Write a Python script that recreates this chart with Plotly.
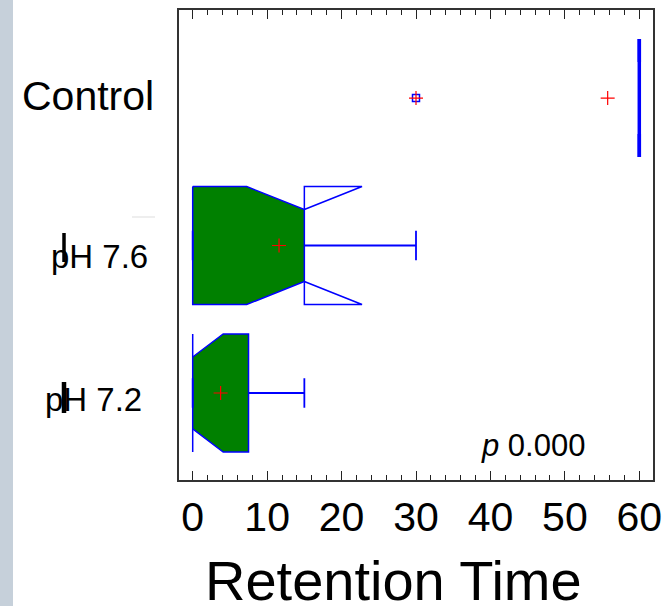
import plotly.graph_objects as go

# ---- data -------------------------------------------------------------
groups = ["Control", "pH 7.6", "pH 7.2"]
positions = [2, 1, 0]
q1 = [60, 0, 0]
median = [60, 15, 0]
q3 = [60, 15, 7.5]
notch_lo = [60, 7.25, 0]
notch_hi = [60, 22.75, 4.1]
whisker_lo = [60, 0, 0]
whisker_hi = [60, 30, 15]
means = [55.75, 11.6, 3.75]
outliers = [[30], [], []]
p_text = "0.000"
x_ticks = [0, 10, 20, 30, 40, 50, 60]

# ---- geometry ---------------------------------------------------------
W, H = 666, 606
L, R, T, B = 179, 13, 10, 126
PW, PH = W - L - R, H - T - B
HALF = 0.4          # half box height (y units)
NOTCH = 0.61 * HALF # half height at the notch waist
CAP = 0.1           # half length of whisker caps

BLUE = "#0000ff"
GREEN = "#008000"
FONT = "Liberation Sans, Arial, sans-serif"


def px_x(px):
    return (px - L) / PW


def px_y(py):
    return (H - B - py) / PH


def half_at(x, lo, med, hi):
    """Half height of the notched outline at position x."""
    if x <= lo or x >= hi:
        if lo == med == x or hi == med == x:
            return NOTCH
        return HALF
    if x <= med:
        return HALF + (NOTCH - HALF) * (x - lo) / (med - lo)
    return NOTCH + (HALF - NOTCH) * (x - med) / (hi - med)


fig = go.Figure()

for i, g in enumerate(groups):
    y0 = positions[i]
    a, m, b = q1[i], median[i], q3[i]
    lo, hi = notch_lo[i], notch_hi[i]
    flat = b == a
    edge_w = 3.5 if flat else 1.5

    # filled notched box between q1 and q3
    xs = [a]
    for v in (lo, m, hi):
        if a < v < b:
            xs.append(v)
    if b > a:
        xs.append(b)
    xs = sorted(set(xs))
    top = [(x, y0 + half_at(x, lo, m, hi)) for x in xs]
    bot = [(x, y0 - half_at(x, lo, m, hi)) for x in reversed(xs)]
    pts = top + bot + [top[0]]
    fig.add_trace(go.Scatter(
        x=[p[0] for p in pts], y=[p[1] for p in pts],
        mode="lines", fill="toself", fillcolor=GREEN,
        line=dict(color=BLUE, width=edge_w), hoverinfo="skip", showlegend=False))

    # notch parts reaching beyond the box, drawn as outlines
    if hi >= b:
        hb = half_at(b, lo, m, hi)
        for s in (1, -1):
            fig.add_trace(go.Scatter(
                x=[b, hi, b, b], y=[y0 + s * hb, y0 + s * HALF, y0 + s * HALF, y0 + s * hb],
                mode="lines", line=dict(color=BLUE, width=edge_w),
                hoverinfo="skip", showlegend=False))
    if lo <= a:
        ha = half_at(a, lo, m, hi)
        for s in (1, -1):
            fig.add_trace(go.Scatter(
                x=[a, lo, a, a], y=[y0 + s * ha, y0 + s * HALF, y0 + s * HALF, y0 + s * ha],
                mode="lines", line=dict(color=BLUE, width=edge_w),
                hoverinfo="skip", showlegend=False))

    # whiskers and caps
    fig.add_trace(go.Scatter(
        x=[b, whisker_hi[i], None, whisker_hi[i], whisker_hi[i], None,
           whisker_lo[i], whisker_lo[i]],
        y=[y0, y0, None, y0 - CAP, y0 + CAP, None, y0 - CAP, y0 + CAP],
        mode="lines", line=dict(color=BLUE, width=1.8),
        hoverinfo="skip", showlegend=False))

    # outliers
    if outliers[i]:
        fig.add_trace(go.Scatter(
            x=outliers[i], y=[y0] * len(outliers[i]), mode="markers",
            marker=dict(symbol="square-open", size=7, color=BLUE, line=dict(width=1.5)),
            hoverinfo="skip", showlegend=False))
        fig.add_trace(go.Scatter(
            x=outliers[i], y=[y0] * len(outliers[i]), mode="markers",
            marker=dict(symbol="cross-thin", size=10, line=dict(color="red", width=1.2)),
            hoverinfo="skip", showlegend=False))

    # mean
    fig.add_trace(go.Scatter(
        x=[means[i]], y=[y0], mode="markers",
        marker=dict(symbol="cross-thin", size=10, line=dict(color="red", width=1.2)),
        hoverinfo="skip", showlegend=False))

# ---- axes -------------------------------------------------------------
fig.update_xaxes(
    range=[-1.84, 61.84], tickvals=x_ticks, ticktext=[str(t) for t in x_ticks],
    ticks="inside", ticklen=9, tickwidth=1.3, tickcolor="#222",
    minor=dict(dtick=2, ticks="inside", ticklen=5, tickwidth=1.2, tickcolor="#222"),
    showline=True, linecolor="#333", linewidth=2, mirror="allticks",
    showgrid=False, zeroline=False, automargin=False,
    tickfont=dict(family=FONT, size=41, color="black"))
fig.update_yaxes(
    range=[-0.59, 2.597], showticklabels=False, ticks="",
    showline=True, linecolor="#333", linewidth=2, mirror=True,
    showgrid=False, zeroline=False, automargin=False)

# ---- labels -----------------------------------------------------------
label_pos = [(87.5, 96, 41), (99, 256, 33), (93, 399, 33)]
ann = []
for g, (cx, cy, fs) in zip(groups, label_pos):
    ann.append(dict(text=g, x=px_x(cx), y=px_y(cy), xref="paper", yref="paper",
                    xanchor="center", yanchor="middle", showarrow=False,
                    font=dict(family=FONT, size=fs, color="black")))
ann.append(dict(text="Retention Time", x=px_x(393), y=px_y(580), xref="paper", yref="paper",
                xanchor="center", yanchor="middle", showarrow=False,
                font=dict(family=FONT, size=56, color="black")))
ann.append(dict(text="<i>p</i> " + p_text, x=px_x(533), y=px_y(445), xref="paper", yref="paper",
                xanchor="center", yanchor="middle", showarrow=False,
                font=dict(family=FONT, size=31, color="black")))

shapes = [
    # textured strip at the left edge
    dict(type="rect", xref="paper", yref="paper", x0=px_x(0), x1=px_x(13),
         y0=px_y(H), y1=px_y(0), fillcolor="#c6d0da", line=dict(width=0), layer="below"),
    dict(type="line", xref="paper", yref="paper", x0=px_x(132), x1=px_x(155),
         y0=px_y(217), y1=px_y(217), line=dict(color="#dddddd", width=1)),
    dict(type="line", xref="paper", yref="paper", x0=px_x(64), x1=px_x(64),
         y0=px_y(233), y1=px_y(262), line=dict(color="black", width=3.5)),
    dict(type="line", xref="paper", yref="paper", x0=px_x(64), x1=px_x(64),
         y0=px_y(382), y1=px_y(413), line=dict(color="black", width=4.5)),
]

fig.update_layout(
    width=W, height=H, margin=dict(l=L, r=R, t=T, b=B, autoexpand=False),
    paper_bgcolor="white", plot_bgcolor="white",
    annotations=ann, shapes=shapes, showlegend=False)

fig.write_html("out.html")
